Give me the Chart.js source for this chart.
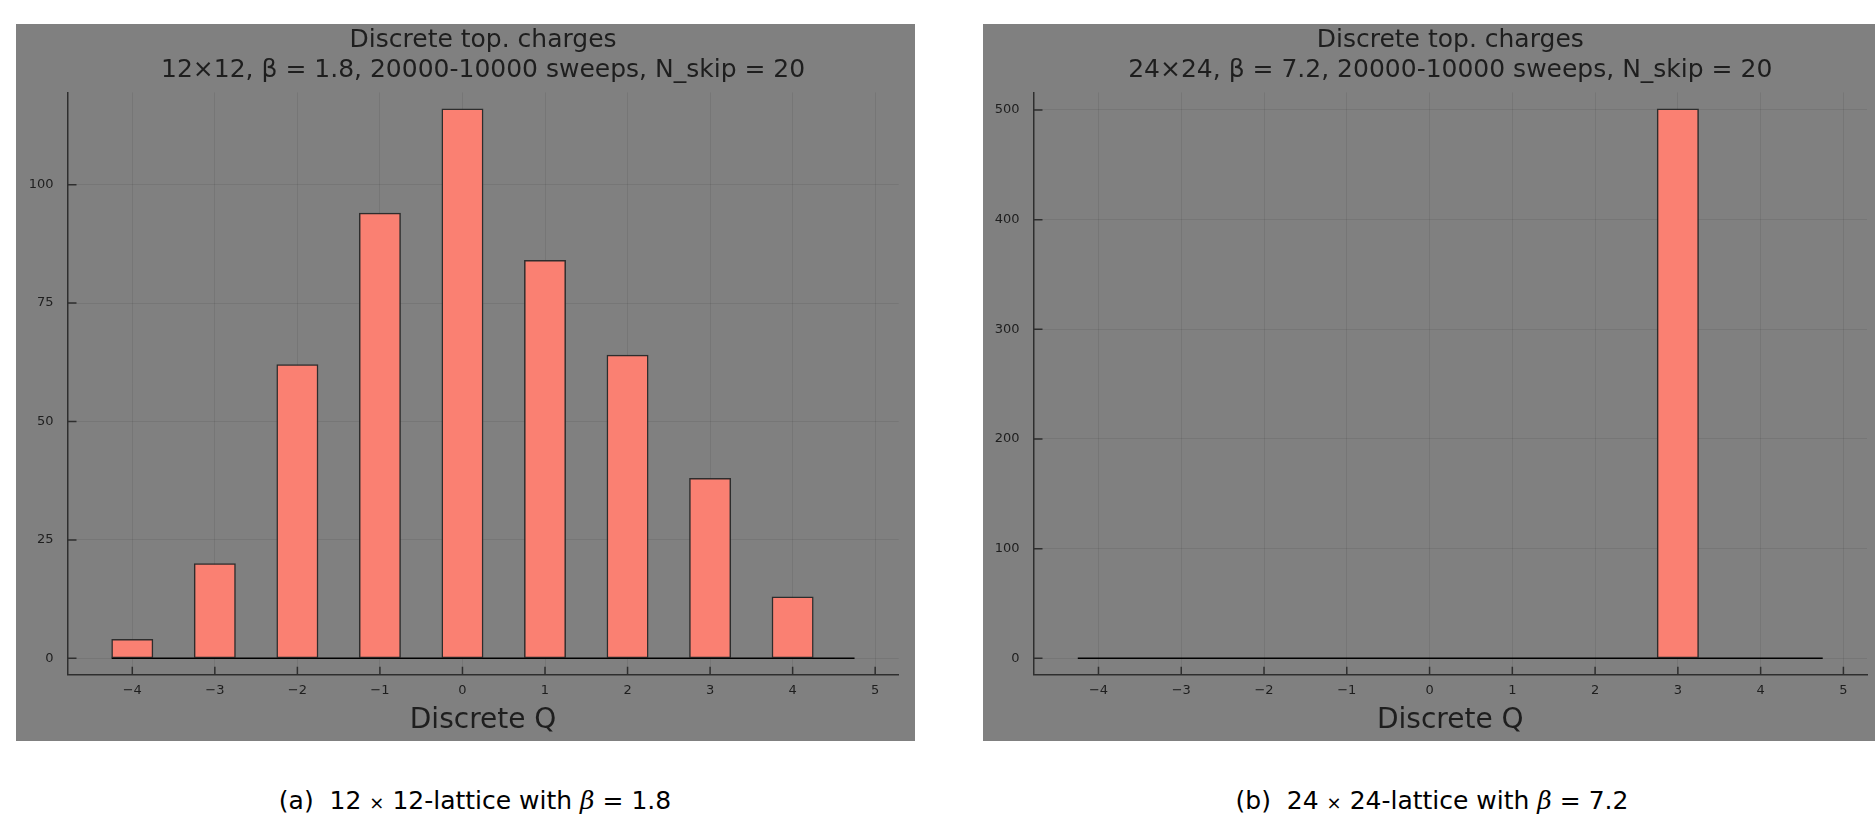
<!DOCTYPE html>
<html>
<head>
<meta charset="utf-8">
<script src="https://cdn.jsdelivr.net/npm/chart.js@4.4.0/dist/chart.umd.min.js"></script>
<style>
  body { margin: 0; background: #fff; width: 1875px; height: 822px; position: relative; overflow: hidden; }
  canvas { position: absolute; background: #808080; }
  .caption {
    position: absolute; top: 786px; line-height: 30px; white-space: pre;
    font-size: 25px; font-family: "DejaVu Sans", sans-serif;
    color: #000; transform: translateX(-50%);
  }
  .caption i { font-family: "DejaVu Serif", serif; }
  .caption .times { font-size: 18px; }
</style>
</head>
<body>
<canvas id="left" width="899" height="717" style="left:16px; top:24px; width:899px; height:717px;"></canvas>
<canvas id="right" width="892" height="717" style="left:983px; top:24px; width:892px; height:717px;"></canvas>
<div class="caption" style="left:475px;">(a)  12 <span class="times">×</span> 12-lattice with <i>β</i> = 1.8</div>
<div class="caption" style="left:1432px;">(b)  24 <span class="times">×</span> 24-lattice with <i>β</i> = 7.2</div>
<script>
// bin centres of the histogram (width 0.5)
const charges = [-4, -3.5, -3, -2.5, -2, -1.5, -1, -0.5, 0, 0.5, 1, 1.5, 2, 2.5, 3, 3.5, 4, 4.5];
const counts12 = [4, 0, 20, 0, 62, 0, 94, 0, 116, 0, 84, 0, 64, 0, 38, 0, 13, 0];
const counts24 = [0, 0, 0, 0, 0, 0, 0, 0, 0, 0, 0, 0, 0, 0, 501, 0, 0, 0];
const binWidth = 0.5;

const xTicks = [-4, -3, -2, -1, 0, 1, 2, 3, 4, 5];
const yTicks12 = [0, 25, 50, 75, 100];
const yTicks24 = [0, 100, 200, 300, 400, 500];

const title12 = ["Discrete top. charges", "12×12, β = 1.8, 20000-10000 sweeps, N_skip = 20"];
const title24 = ["Discrete top. charges", "24×24, β = 7.2, 20000-10000 sweeps, N_skip = 20"];

const axisColor = "#2e2e2e";
const gridColor = "rgba(0,0,0,0.08)";
const textColor = "#1e1e1e";
const sans = '"DejaVu Sans", sans-serif';

const innerTicks = {
  id: "innerTicks",
  afterDatasetsDraw(chart) {
    const { ctx, chartArea: a, scales: { x, y } } = chart;
    ctx.save();
    ctx.strokeStyle = axisColor;
    ctx.lineWidth = 1.5;
    ctx.beginPath();
    x.ticks.forEach((t) => {
      const px = x.getPixelForValue(t.value);
      ctx.moveTo(px, a.bottom);
      ctx.lineTo(px, a.bottom - 8);
    });
    y.ticks.forEach((t) => {
      const py = y.getPixelForValue(t.value);
      ctx.moveTo(a.left, py);
      ctx.lineTo(a.left + 9, py);
    });
    ctx.stroke();
    ctx.restore();
  },
};

function histChart(id, counts, yTicks, titleLines, leftW, rightPad) {
  const top = Math.max(...counts);
  const bars = charges.map((c, i) => ({ x: c, y: counts[i] }));
  const baseline = [
    { x: charges[0] - binWidth / 2, y: 0 },
    { x: charges[charges.length - 1] + binWidth / 2, y: 0 },
  ];
  return new Chart(document.getElementById(id), {
    type: "bar",
    data: {
      datasets: [
        {
          type: "line",
          data: baseline,
          borderColor: "#000",
          borderWidth: 1.5,
          pointRadius: 0,
          order: 2,
        },
        {
          data: bars,
          backgroundColor: "#fa8072",
          borderColor: "rgba(35,35,35,0.9)",
          borderWidth: 1.5,
          borderSkipped: false,
          barPercentage: 1,
          categoryPercentage: 1,
          order: 1,
        },
      ],
    },
    options: {
      responsive: false,
      animation: false,
      layout: { padding: { left: 0, right: rightPad, top: 0, bottom: 0 } },
      plugins: {
        legend: { display: false },
        tooltip: { enabled: false },
        title: {
          display: true,
          fullSize: false,
          text: titleLines,
          color: textColor,
          font: { family: sans, size: 25, weight: "normal", lineHeight: "30px" },
          padding: { top: 1.5, bottom: 6.9 },
        },
      },
      scales: {
        x: {
          type: "linear",
          min: -4.785,
          max: 5.285,
          offset: false,
          afterBuildTicks: (s) => { s.ticks = xTicks.map((v) => ({ value: v })); },
          afterFit: (s) => { s.height = 66.2; },
          ticks: {
            padding: 8,
            color: textColor,
            font: { family: sans, size: 13 },
            callback: (v) => String(v).replace("-", "\u2212"),
          },
          grid: { color: gridColor, drawTicks: false, offset: false },
          border: { color: axisColor, width: 1.5 },
          title: {
            display: true,
            text: "Discrete Q",
            color: textColor,
            font: { family: sans, size: 28, lineHeight: 1.2 },
            padding: { top: 0, bottom: 3.8 },
          },
        },
        y: {
          min: -0.03 * top,
          max: 1.03 * top,
          afterBuildTicks: (s) => { s.ticks = yTicks.map((v) => ({ value: v })); },
          afterFit: (s) => { s.width = leftW; },
          ticks: {
            padding: 14,
            color: textColor,
            font: { family: sans, size: 13 },
          },
          grid: { color: gridColor, drawTicks: false },
          border: { color: axisColor, width: 1.5 },
        },
      },
    },
    plugins: [innerTicks],
  });
}

histChart("left", counts12, yTicks12, title12, 51.5, 16.3);
histChart("right", counts24, yTicks24, title24, 50.5, 8);
</script>
</body>
</html>
